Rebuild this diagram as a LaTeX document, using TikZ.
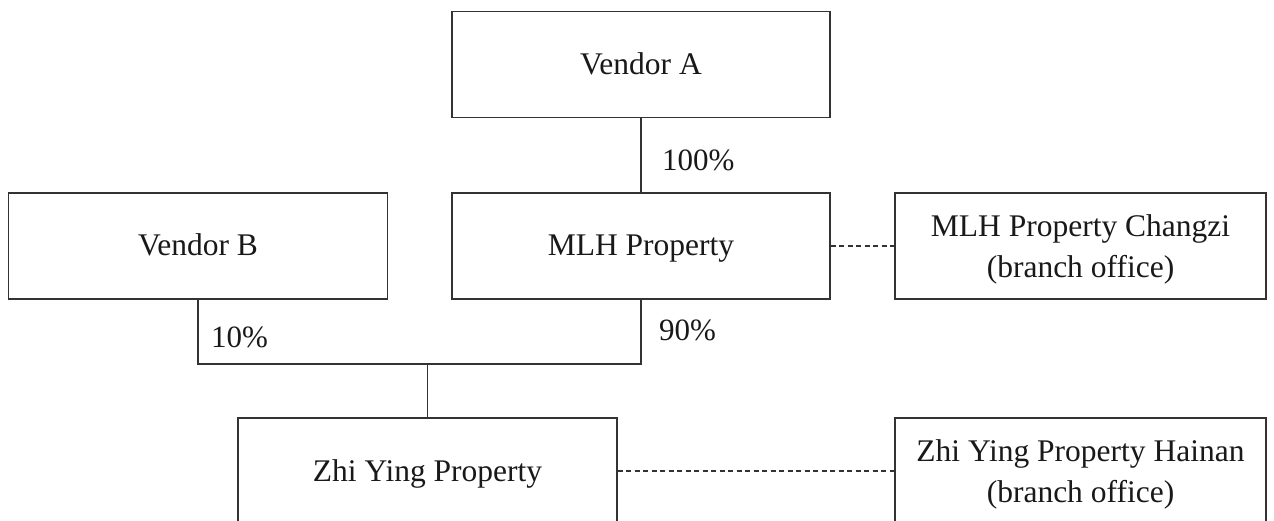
\documentclass[tikz,border=0pt]{standalone}
\usepackage{fontspec}
\setmainfont{Liberation Serif}
\begin{document}
\begin{tikzpicture}[x=1pt,y=-1pt,
  box/.style={draw=black!80,line width=1.3pt,rectangle,minimum width=378pt,minimum height=106pt,inner sep=0pt,align=center,text=black!90,font=\fontsize{31.5}{41}\selectfont,text height=27pt,text depth=7pt},
  boxtwo/.style={box,text height=70pt,text depth=7pt},
  pct/.style={anchor=west,inner sep=0pt,text=black!90,font=\fontsize{31}{38}\selectfont},
  conn/.style={draw=black!80,line width=1.3pt},
  dashconn/.style={draw=black!80,line width=1.2pt,dash pattern=on 5pt off 3.5pt}]
\clip (0,0) rectangle (1274,521);
\fill[white] (0,0) rectangle (1274,521);
\node[box] (A) at (641,64.5) {Vendor A};
\node[box] (M) at (641,246) {MLH Property};
\node[box,minimum width=379pt] (B) at (198,246) {Vendor B};
\node[boxtwo,minimum width=371pt] (C) at (1080.5,246) {MLH Property Changzi\\(branch office)};
\node[box,minimum width=379pt] (Z) at (427.5,471) {Zhi Ying Property};
\node[boxtwo,minimum width=371pt] (H) at (1080.5,471) {Zhi Ying Property Hainan\\(branch office)};
\coordinate (J) at (427,364);
\draw[conn] (A.south) -- (M.north);
\draw[conn] (B.south) -- (B.south |- J) -- (M.south |- J) -- (M.south);
\draw[conn] (Z.north) -- (Z.north |- J);
\draw[dashconn] (M.east) -- (C.west);
\draw[dashconn] (Z.east) -- (H.west);
\node[pct] (p100) at (662,160) {100\%};
\node[pct] (p10) at (211,337) {10\%};
\node[pct] (p90) at (659,330) {90\%};
\end{tikzpicture}
\end{document}
